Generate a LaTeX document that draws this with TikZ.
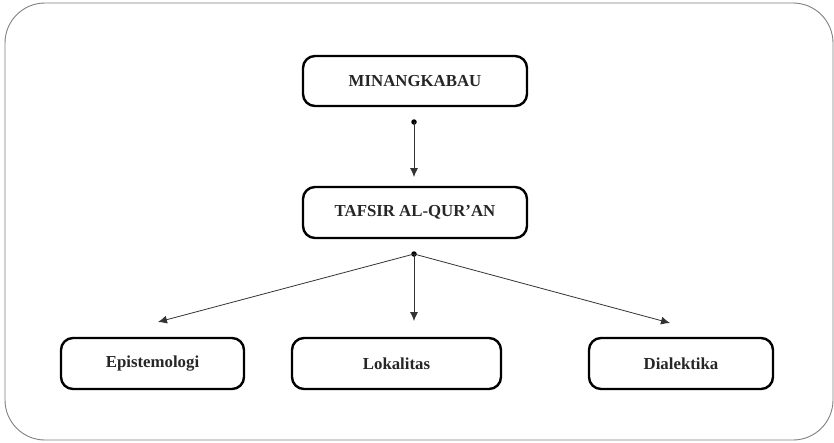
\documentclass[tikz,border=0pt]{standalone}
\usepackage{fontspec}
\setmainfont{Liberation Serif}
\usetikzlibrary{arrows.meta}
\begin{document}
\begin{tikzpicture}[x=1pt,y=-1pt,
  box/.style={draw=black, line width=2.4pt, rounded corners=12pt, fill=white,
    inner sep=0pt, font=\fontsize{16.8}{19}\selectfont\bfseries, text=black!85},
  conn/.style={draw=black!80, line width=0.8pt, -{Latex[length=9pt,width=8pt]}},
  dotpt/.style={circle, fill=black, inner sep=0pt, minimum size=5.5pt}]
\useasboundingbox (0,0) rectangle (834,442);
\draw[gray, line width=0.9pt, rounded corners=40pt] (5,3) rectangle (833,440);
\node[box, minimum width=224pt, minimum height=50pt] (min) at (415,81) {MINANGKABAU};
\node[box, minimum width=224pt, minimum height=51pt] (taf) at (415,212.5) {TAFSIR AL-QUR'AN};
\node[box, minimum width=183pt, minimum height=51pt] (epi) at (152.5,363.5) {Epistemologi};
\node[box, minimum width=209pt, minimum height=51pt] (lok) at (396.5,363.5) {Lokalitas};
\node[box, minimum width=184pt, minimum height=51pt] (dia) at (681,363.5) {Dialektika};
\node[dotpt] (d1) at (414,122) {};
\node[dotpt] (d2) at (414,254) {};
\coordinate (t1) at (414,177);
\coordinate (te) at (158,322);
\coordinate (tl) at (414,321);
\coordinate (td) at (670,323);
\draw[conn] (d1.center) -- (t1);
\draw[conn] (d2.center) -- (te);
\draw[conn] (d2.center) -- (tl);
\draw[conn] (d2.center) -- (td);
\end{tikzpicture}
\end{document}
